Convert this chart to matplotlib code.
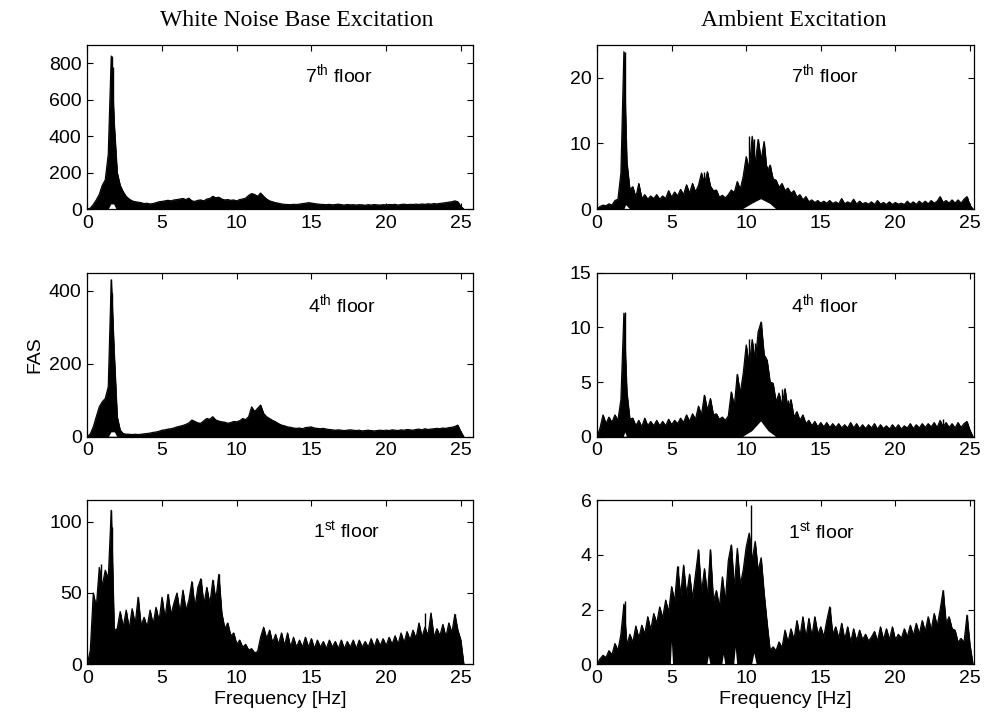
import numpy as np
import matplotlib
matplotlib.use("Agg")
import matplotlib.pyplot as plt

plt.rcParams['font.family'] = ['Liberation Sans', 'DejaVu Sans']
plt.rcParams['mathtext.fontset'] = 'custom'
plt.rcParams['mathtext.rm'] = 'Liberation Sans'
plt.rcParams['mathtext.it'] = 'Liberation Sans:italic'

# ---------------- data (upper envelope sampled every 0.2 Hz from 0 Hz) ----------------
FREQ_STEP = 0.2

wn_7th = [0, 5, 25, 50, 80, 130, 160, 300, 840, 470,
          200, 130, 95, 70, 55, 45, 40, 38, 35, 30,
          32, 28, 30, 35, 40, 42, 45, 48, 45, 50,
          52, 55, 58, 52, 60, 45, 42, 48, 50, 45,
          55, 58, 70, 62, 65, 55, 50, 52, 48, 50,
          45, 52, 55, 60, 75, 85, 80, 70, 88, 70,
          55, 45, 40, 35, 32, 28, 26, 25, 24, 26,
          25, 27, 30, 32, 35, 33, 30, 28, 26, 25,
          24, 26, 23, 25, 27, 24, 22, 25, 23, 24,
          22, 24, 23, 21, 24, 22, 25, 23, 22, 24,
          23, 25, 24, 26, 22, 25, 27, 24, 26, 25,
          27, 25, 28, 26, 29, 27, 30, 28, 31, 33,
          35, 38, 40, 45, 40, 15, 0]

amb_7th = [0, 0.4, 0.6, 0.5, 0.8, 0.6, 1.3, 1.5, 5.5, 24,
           7.2, 3.0, 3.4, 1.8, 3.9, 1.6, 2.2, 1.5, 2.0, 1.6,
           2.2, 1.5, 2.0, 1.6, 2.8, 1.8, 2.6, 2.0, 3.0, 2.2,
           3.7, 2.4, 3.9, 2.6, 3.6, 5.5, 3.8, 5.7, 3.5, 2.8,
           2.9, 1.8, 2.1, 1.7, 2.2, 2.9, 2.5, 4.2, 3.0, 5.0,
           8.0, 6.0, 11.1, 7.0, 10.6, 7.5, 10.3, 5.5, 6.7, 4.6,
           4.4, 3.3, 3.9, 2.8, 3.2, 2.4, 2.8, 1.8, 2.2, 1.4,
           1.9, 1.1, 1.4, 1.0, 1.3, 0.9, 1.2, 0.9, 1.3, 0.85,
           1.1, 0.8, 1.6, 0.8, 1.1, 0.85, 1.5, 0.75, 1.2, 0.8,
           1.0, 0.75, 1.1, 0.7, 1.3, 0.75, 1.0, 0.7, 1.1, 0.7,
           1.0, 0.75, 0.9, 0.7, 1.2, 0.75, 1.1, 0.7, 1.2, 0.8,
           1.2, 0.8, 1.3, 0.9, 1.2, 1.9, 1.0, 1.3, 0.9, 1.4,
           0.9, 1.4, 0.9, 1.5, 1.9, 0.6, 0]

wn_4th = [0, 8, 27, 55, 82, 96, 105, 137, 430, 230,
          55, 18, 9, 7, 7, 6, 7, 6, 7, 8,
          9, 10, 12, 13, 15, 18, 19, 21, 22, 24,
          27, 29, 31, 34, 38, 46, 42, 38, 37, 44,
          50, 48, 55, 46, 43, 41, 40, 37, 39, 42,
          41, 44, 50, 47, 55, 82, 69, 78, 87, 64,
          55, 50, 45, 41, 36, 32, 30, 27, 26, 24,
          23, 24, 22, 25, 26, 27, 24, 23, 22, 23,
          21, 20, 19, 18, 19, 18, 17, 18, 19, 18,
          17, 18, 16, 17, 18, 17, 16, 17, 18, 17,
          18, 17, 19, 18, 17, 19, 18, 20, 19, 18,
          20, 21, 19, 22, 20, 21, 22, 23, 22, 24,
          23, 25, 26, 28, 32, 14, 0]

amb_4th = [0, 0.8, 2.0, 1.2, 1.8, 1.3, 2.0, 1.5, 3.4, 11.3,
           4.1, 1.6, 1.7, 1.0, 1.5, 0.9, 1.7, 1.0, 1.4, 1.0,
           1.5, 1.0, 1.4, 1.0, 1.6, 1.1, 1.5, 1.2, 1.7, 1.3,
           2.0, 1.4, 2.1, 1.6, 2.8, 2.0, 3.8, 2.4, 3.5, 2.0,
           2.1, 1.6, 1.8, 1.5, 1.9, 4.1, 2.8, 5.7, 4.0, 5.8,
           8.4, 6.5, 8.9, 6.8, 9.6, 10.5, 7.5, 7.0, 5.0, 4.9,
           3.2, 4.0, 2.8, 4.4, 2.4, 3.4, 1.8, 2.3, 1.5, 2.0,
           1.2, 1.5, 1.0, 1.4, 0.9, 1.3, 0.9, 1.3, 0.85, 1.2,
           0.85, 1.2, 0.8, 1.1, 0.8, 1.3, 0.8, 1.2, 0.75, 1.1,
           0.75, 1.1, 0.8, 1.2, 0.7, 1.1, 0.75, 1.0, 0.7, 1.1,
           0.75, 1.1, 0.7, 1.0, 0.8, 1.2, 0.75, 1.1, 0.8, 1.2,
           0.85, 1.2, 0.9, 1.3, 0.85, 1.5, 0.9, 1.3, 0.85, 1.2,
           0.8, 1.3, 0.85, 1.2, 1.4, 0.6, 0]

wn_1st = [0, 10, 50, 40, 68, 55, 66, 60, 108, 24,
          25, 37, 26, 38, 25, 39, 28, 47, 27, 33,
          26, 38, 28, 40, 30, 47, 32, 49, 35, 43,
          50, 36, 52, 38, 45, 58, 40, 54, 60, 42,
          54, 42, 59, 45, 63, 36, 25, 29, 20, 22,
          14, 17, 12, 14, 10, 11, 8, 9, 19, 26,
          18, 24, 15, 21, 14, 22, 13, 22, 12, 19,
          12, 17, 12, 19, 12, 18, 11, 17, 12, 16,
          11, 17, 12, 16, 11, 17, 11, 16, 12, 17,
          11, 17, 12, 16, 12, 18, 12, 18, 13, 18,
          13, 19, 14, 20, 14, 22, 15, 23, 17, 24,
          18, 29, 19, 26, 20, 36, 19, 25, 20, 28,
          19, 29, 22, 35, 24, 17, 0]

amb_1st = [0, 0.2, 0.33, 0.25, 0.5, 0.35, 0.76, 0.5, 1.1, 2.2,
           0.7, 1.1, 0.8, 1.4, 0.95, 1.43, 1.1, 1.74, 1.25, 1.86,
           1.5, 2.1, 1.7, 2.35, 1.9, 2.84, 2.3, 3.57, 2.5, 3.63,
           2.5, 3.3, 2.4, 3.3, 4.18, 2.6, 3.5, 2.5, 4.18, 2.3,
           2.7, 2.1, 3.2, 2.3, 3.8, 4.37, 2.8, 4.24, 2.9, 3.45,
           4.3, 4.8, 3.8, 4.5, 3.4, 3.9, 2.6, 1.5, 0.5, 0.64,
           0.5, 0.82, 0.6, 1.25, 0.8, 1.3, 0.9, 1.6, 1.0, 1.74,
           0.95, 1.68, 1.0, 1.74, 1.1, 1.37, 1.0, 1.6, 2.1, 1.1,
           1.37, 0.95, 1.5, 0.9, 1.37, 0.8, 1.3, 0.85, 1.25, 0.9,
           1.1, 0.85, 1.0, 1.2, 0.85, 1.37, 0.9, 1.3, 0.9, 1.37,
           0.9, 1.1, 0.95, 1.3, 1.0, 1.43, 1.05, 1.5, 1.1, 1.6,
           1.2, 1.74, 1.25, 1.86, 1.4, 2.0, 2.7, 1.5, 1.74, 1.3,
           1.25, 0.8, 0.95, 0.8, 1.8, 0.7, 0]

# individual tall spikes (frequency, amplitude)
spike_wn_7th = ([1.63, 1.7], [840, 780])
spike_amb_7th = ([1.86, 7.2, 7.4, 10.2, 10.5, 10.8, 11.4, 11.6, 23.0, 24.8],
                 [24, 5.7, 5.5, 11.1, 10.6, 10.6, 6.5, 6.7, 1.9, 1.9])
spike_wn_4th = ([1.62, 1.68], [432, 395])
spike_amb_4th = ([1.89, 7.2, 9.0, 9.4, 10.2, 10.6, 11.0, 12.4, 12.8, 23.2],
                 [11.4, 3.8, 4.1, 5.7, 8.9, 8.6, 10.5, 4.4, 3.4, 1.6])
spike_wn_1st = ([0.9, 1.62, 1.68, 3.4, 5.4, 7.0, 7.6, 8.4, 8.8, 22.6, 24.6],
                [70, 108, 96, 47, 49, 58, 60, 59, 63, 36, 35])
spike_amb_1st = ([1.85, 5.4, 6.8, 7.6, 9.0, 10.3, 15.6, 23.2, 24.8],
                 [2.3, 3.6, 4.2, 4.2, 4.37, 5.83, 2.1, 2.7, 1.8])

# white gaps under the signal (frequency, amplitude)
low_wn_7th = ([1.45, 1.6, 1.8, 1.95], [0, 25, 25, 0])
low_amb_7th = ([1.85, 1.95, 2.2, 9.8, 10.4, 11.0, 11.6, 12.0],
               [0, 0.6, 0, 0, 0.8, 1.5, 0.8, 0])
low_wn_4th = ([1.45, 1.62, 1.85, 2.0], [0, 12, 12, 0])
low_amb_4th = ([1.8, 1.9, 2.0, 9.8, 10.4, 11.0, 11.5, 12.0],
               [0, 0.4, 0, 0, 0.5, 1.4, 0.5, 0])
low_wn_1st = ([0, 25.2], [0, 0])
low_amb_1st = ([4.95, 5.02, 5.1, 7.4, 7.5, 7.6, 8.4, 8.5, 8.6, 9.2, 9.3, 9.4, 10.4, 10.55, 10.7],
               [0, 0.8, 0, 0, 0.3, 0, 0, 0.35, 0, 0, 0.6, 0, 0, 0.4, 0])

floor_labels = ["7$^{\\mathrm{th}}$ floor", "4$^{\\mathrm{th}}$ floor", "1$^{\\mathrm{st}}$ floor"]
col_titles = ["White Noise Base Excitation", "Ambient Excitation"]

left_series = [wn_7th, wn_4th, wn_1st]
right_series = [amb_7th, amb_4th, amb_1st]
left_spikes = [spike_wn_7th, spike_wn_4th, spike_wn_1st]
right_spikes = [spike_amb_7th, spike_amb_4th, spike_amb_1st]
left_low = [low_wn_7th, low_wn_4th, low_wn_1st]
right_low = [low_amb_7th, low_amb_4th, low_amb_1st]

left_ylim = [900, 450, 115]
left_yticks = [[0, 200, 400, 600, 800], [0, 200, 400], [0, 50, 100]]
right_ylim = [25, 15, 6]
right_yticks = [[0, 10, 20], [0, 5, 10, 15], [0, 2, 4, 6]]
xticks = [0, 5, 10, 15, 20, 25]

# ---------------- figure ----------------
fig = plt.figure(figsize=(9.84, 7.24), dpi=100)

row_bottoms = [0.7113, 0.3968, 0.0825]
row_h = 0.2265
left_x, left_w = 0.0887, 0.3917
right_x, right_w = 0.6067, 0.3831
label_pos_left = [(0.653, 0.82), (0.661, 0.806), (0.674, 0.81)]
label_pos_right = [(0.606, 0.82), (0.605, 0.806), (0.596, 0.806)]


def draw(ax, vals, spikes, low, ymax, yticks, xmax, lab, labpos):
    vals = np.asarray(vals, dtype=float)
    f = np.arange(len(vals)) * FREQ_STEP
    ax.fill_between(f, 0, vals, facecolor='black', edgecolor='black', linewidth=0.5)
    ax.plot(f, vals, color='black', linewidth=0.8)
    ax.vlines(spikes[0], 0, spikes[1], color='black', linewidth=1.0)
    lf = np.asarray(low[0], dtype=float)
    lv = np.asarray(low[1], dtype=float)
    if lv.max() > 0:
        ax.fill_between(lf, 0, lv, facecolor='white', edgecolor='none', zorder=2.5)
    ax.set_xlim(0, xmax)
    ax.set_ylim(0, ymax)
    ax.set_xticks(xticks)
    ax.set_yticks(yticks)
    ax.tick_params(direction='in', length=4, width=0.8, top=True, right=True,
                   labelsize=14, pad=4)
    for s in ax.spines.values():
        s.set_linewidth(0.9)
        s.set_zorder(3)
    ax.text(labpos[0], labpos[1], lab, transform=ax.transAxes, fontsize=14,
            ha='center', va='center')


for i in range(3):
    axl = fig.add_axes([left_x, row_bottoms[i], left_w, row_h])
    draw(axl, left_series[i], left_spikes[i], left_low[i], left_ylim[i], left_yticks[i],
         25.8, floor_labels[i], label_pos_left[i])
    axr = fig.add_axes([right_x, row_bottoms[i], right_w, row_h])
    draw(axr, right_series[i], right_spikes[i], right_low[i], right_ylim[i], right_yticks[i],
         25.27, floor_labels[i], label_pos_right[i])
    if i == 1:
        axl.set_ylabel("FAS", fontsize=14, labelpad=4)
    if i == 2:
        axl.set_xlabel("Frequency [Hz]", fontsize=14, labelpad=3)
        axr.set_xlabel("Frequency [Hz]", fontsize=14, labelpad=3)

fig.text(0.302, 0.972, col_titles[0], family='Liberation Serif', fontsize=17,
         ha='center', va='center')
fig.text(0.807, 0.972, col_titles[1], family='Liberation Serif', fontsize=17,
         ha='center', va='center')

fig.savefig("out.png", dpi=100)
